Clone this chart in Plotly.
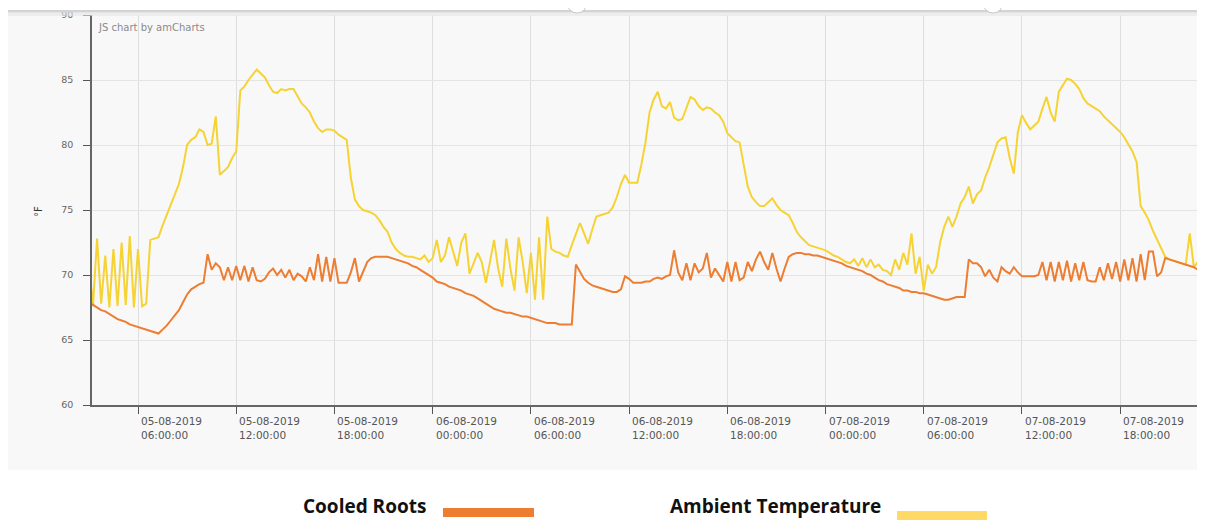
import pandas as pd
import plotly.graph_objects as go

# ---------------- data (15-minute readings from 05-08-2019 03:00) ----------------
start_time = "2019-08-05 03:00:00"

ambient_temperature = [
    71.0, 67.6, 72.8, 67.8,   # 03h
    71.5, 67.5, 72.0, 67.6,   # 04h
    72.5, 67.7, 73.0, 67.5,   # 05h
    72.0, 67.6, 67.8, 72.7,   # 06h
    72.8, 72.9, 73.8, 74.6,   # 07h
    75.3, 76.2, 77.0, 78.3,   # 08h
    80.0, 80.4, 80.6, 81.2,   # 09h
    81.0, 80.0, 80.1, 82.2,   # 10h
    77.7, 78.0, 78.3, 79.0,   # 11h
    79.5, 84.2, 84.5, 85.0,   # 12h
    85.4, 85.8, 85.5, 85.2,   # 13h
    84.6, 84.1, 84.0, 84.3,   # 14h
    84.2, 84.3, 84.3, 83.8,   # 15h
    83.2, 82.9, 82.5, 81.8,   # 16h
    81.3, 81.0, 81.2, 81.2,   # 17h
    81.1, 80.8, 80.6, 80.4,   # 18h
    77.5, 75.8, 75.3, 75.0,   # 19h
    74.9, 74.8, 74.6, 74.2,   # 20h
    73.7, 73.3, 72.5, 72.0,   # 21h
    71.7, 71.5, 71.4, 71.4,   # 22h
    71.3, 71.2, 71.5, 71.0,   # 23h
    71.3, 72.7, 71.0, 71.5,   # 06-08 00h
    72.9, 71.8, 70.7, 72.5,   # 01h
    73.2, 70.1, 70.9, 71.7,   # 02h
    71.0, 69.4, 71.0, 72.7,   # 03h
    70.5, 69.1, 72.8, 70.5,   # 04h
    68.8, 72.9, 71.0, 68.6,   # 05h
    71.7, 68.1, 72.9, 68.1,   # 06h
    74.5, 72.0, 71.8, 71.7,   # 07h
    71.5, 71.4, 72.3, 73.2,   # 08h
    74.0, 73.2, 72.4, 73.5,   # 09h
    74.5, 74.6, 74.7, 74.8,   # 10h
    75.2, 76.0, 77.0, 77.7,   # 11h
    77.1, 77.1, 77.1, 78.5,   # 12h
    80.2, 82.5, 83.5, 84.1,   # 13h
    83.0, 82.8, 83.3, 82.1,   # 14h
    81.9, 82.0, 82.8, 83.7,   # 15h
    83.5, 83.0, 82.7, 82.9,   # 16h
    82.8, 82.5, 82.3, 81.8,   # 17h
    80.9, 80.6, 80.3, 80.2,   # 18h
    78.5, 76.8, 76.0, 75.6,   # 19h
    75.3, 75.3, 75.6, 75.9,   # 20h
    75.4, 75.0, 74.8, 74.6,   # 21h
    74.0, 73.3, 72.9, 72.6,   # 22h
    72.3, 72.2, 72.1, 72.0,   # 23h
    71.9, 71.7, 71.5, 71.4,   # 07-08 00h
    71.2, 71.0, 70.9, 71.2,   # 01h
    70.7, 71.3, 70.6, 71.2,   # 02h
    70.6, 70.8, 70.4, 70.3,   # 03h
    70.0, 71.2, 70.4, 71.7,   # 04h
    70.8, 73.2, 70.1, 71.4,   # 05h
    68.8, 70.8, 70.1, 70.6,   # 06h
    72.5, 73.7, 74.5, 73.7,   # 07h
    74.5, 75.5, 76.0, 76.8,   # 08h
    75.5, 76.2, 76.5, 77.5,   # 09h
    78.3, 79.3, 80.2, 80.5,   # 10h
    80.6, 79.0, 77.8, 81.0,   # 11h
    82.3, 81.7, 81.2, 81.5,   # 12h
    81.8, 82.8, 83.7, 82.5,   # 13h
    81.8, 84.1, 84.6, 85.1,   # 14h
    85.0, 84.7, 84.3, 83.6,   # 15h
    83.2, 83.0, 82.8, 82.6,   # 16h
    82.2, 81.9, 81.6, 81.3,   # 17h
    81.0, 80.6, 80.1, 79.5,   # 18h
    78.7, 75.3, 74.8, 74.2,   # 19h
    73.4, 72.7, 72.0, 71.4,   # 20h
    71.2, 71.1, 71.0, 70.9,   # 21h
    70.8, 73.2, 70.6, 71.0,   # 22h
    71.3, 71.2,               # 23h
]

cooled_roots = [
    67.9, 67.7, 67.5, 67.3,   # 03h
    67.2, 67.0, 66.8, 66.6,   # 04h
    66.5, 66.4, 66.2, 66.1,   # 05h
    66.0, 65.9, 65.8, 65.7,   # 06h
    65.6, 65.5, 65.8, 66.1,   # 07h
    66.5, 66.9, 67.3, 67.9,   # 08h
    68.5, 68.9, 69.1, 69.3,   # 09h
    69.4, 71.6, 70.4, 70.9,   # 10h
    70.6, 69.6, 70.6, 69.6,   # 11h
    70.7, 69.6, 70.7, 69.5,   # 12h
    70.6, 69.6, 69.5, 69.7,   # 13h
    70.2, 70.5, 70.0, 70.4,   # 14h
    69.8, 70.4, 69.6, 70.1,   # 15h
    69.9, 69.5, 70.6, 69.6,   # 16h
    71.6, 69.5, 71.4, 69.5,   # 17h
    71.3, 69.4, 69.4, 69.4,   # 18h
    70.2, 71.3, 69.5, 70.3,   # 19h
    71.0, 71.3, 71.4, 71.4,   # 20h
    71.4, 71.4, 71.3, 71.2,   # 21h
    71.1, 71.0, 70.9, 70.7,   # 22h
    70.6, 70.4, 70.2, 70.0,   # 23h
    69.8, 69.5, 69.4, 69.3,   # 06-08 00h
    69.1, 69.0, 68.9, 68.8,   # 01h
    68.6, 68.5, 68.4, 68.2,   # 02h
    68.0, 67.8, 67.6, 67.4,   # 03h
    67.3, 67.2, 67.1, 67.1,   # 04h
    67.0, 66.9, 66.8, 66.8,   # 05h
    66.7, 66.6, 66.5, 66.4,   # 06h
    66.3, 66.3, 66.3, 66.2,   # 07h
    66.2, 66.2, 66.2, 70.8,   # 08h
    70.2, 69.7, 69.4, 69.2,   # 09h
    69.1, 69.0, 68.9, 68.8,   # 10h
    68.7, 68.7, 68.9, 69.9,   # 11h
    69.7, 69.4, 69.4, 69.4,   # 12h
    69.5, 69.5, 69.7, 69.8,   # 13h
    69.7, 69.9, 70.0, 71.9,   # 14h
    70.2, 69.6, 70.9, 69.6,   # 15h
    70.9, 70.2, 70.5, 71.7,   # 16h
    69.8, 70.5, 70.0, 69.5,   # 17h
    71.0, 69.5, 71.0, 69.6,   # 18h
    69.8, 71.0, 70.3, 71.2,   # 19h
    71.8, 71.0, 70.4, 71.7,   # 20h
    70.5, 69.5, 70.5, 71.4,   # 21h
    71.6, 71.7, 71.7, 71.6,   # 22h
    71.6, 71.5, 71.5, 71.4,   # 23h
    71.3, 71.2, 71.1, 71.0,   # 07-08 00h
    70.9, 70.7, 70.6, 70.5,   # 01h
    70.4, 70.3, 70.1, 70.0,   # 02h
    69.8, 69.6, 69.5, 69.3,   # 03h
    69.2, 69.1, 69.0, 68.8,   # 04h
    68.8, 68.7, 68.7, 68.6,   # 05h
    68.6, 68.5, 68.4, 68.3,   # 06h
    68.2, 68.1, 68.1, 68.2,   # 07h
    68.3, 68.3, 68.3, 71.2,   # 08h
    70.9, 70.9, 70.6, 69.9,   # 09h
    70.4, 69.8, 69.5, 70.6,   # 10h
    70.3, 70.1, 70.6, 70.2,   # 11h
    69.9, 69.9, 69.9, 69.9,   # 12h
    70.0, 71.0, 69.6, 71.0,   # 13h
    69.5, 71.0, 69.6, 71.1,   # 14h
    69.5, 70.9, 69.6, 71.0,   # 15h
    69.6, 69.5, 69.5, 70.6,   # 16h
    69.6, 70.9, 69.7, 71.0,   # 17h
    69.5, 71.2, 69.6, 71.3,   # 18h
    69.5, 71.6, 69.6, 71.8,   # 19h
    71.8, 69.9, 70.2, 71.3,   # 20h
    71.2, 71.1, 71.0, 70.9,   # 21h
    70.8, 70.7, 70.6, 70.4,   # 22h
    70.4, 70.3,               # 23h
]

tick_values = [
    "2019-08-05 06:00:00", "2019-08-05 12:00:00", "2019-08-05 18:00:00",
    "2019-08-06 00:00:00", "2019-08-06 06:00:00", "2019-08-06 12:00:00",
    "2019-08-06 18:00:00", "2019-08-07 00:00:00", "2019-08-07 06:00:00",
    "2019-08-07 12:00:00", "2019-08-07 18:00:00",
]
tick_labels = [
    "05-08-2019<br>06:00:00", "05-08-2019<br>12:00:00", "05-08-2019<br>18:00:00",
    "06-08-2019<br>00:00:00", "06-08-2019<br>06:00:00", "06-08-2019<br>12:00:00",
    "06-08-2019<br>18:00:00", "07-08-2019<br>00:00:00", "07-08-2019<br>06:00:00",
    "07-08-2019<br>12:00:00", "07-08-2019<br>18:00:00",
]
y_ticks = [60, 65, 70, 75, 80, 85, 90]
series_names = ["Cooled Roots", "Ambient Temperature"]
series_colors = ["#ed7d31", "#f6d334"]
legend_colors = ["#ed7d31", "#ffd966"]
x_range = ["2019-08-05 03:11:24", "2019-08-07 23:10:48"]

# ---------------- figure ----------------
times = pd.date_range(start_time, periods=len(cooled_roots), freq="15min")

# the page body has an 8px margin, so the figure is offset by 8px
OFF = 8
W, H = 1205 - OFF, 521 - OFF
L, R, T, B = 92 - OFF, 0, 15 - OFF, 116
PW, PH = W - L - R, H - T - B


def px_x(p):
    """reference-screen x pixel -> paper coordinate"""
    return (p - OFF - L) / PW


def px_y(p):
    """reference-screen y pixel -> paper coordinate"""
    return (H - B - (p - OFF)) / PH


fig = go.Figure()
fig.add_trace(go.Scatter(x=times, y=ambient_temperature, mode="lines",
                         name=series_names[1],
                         line=dict(color=series_colors[1], width=2),
                         showlegend=False))
fig.add_trace(go.Scatter(x=times, y=cooled_roots, mode="lines",
                         name=series_names[0],
                         line=dict(color=series_colors[0], width=2),
                         showlegend=False))

BG = "#f8f8f8"
shapes = [
    # chart container background
    dict(type="rect", xref="paper", yref="paper", layer="below",
         x0=px_x(7), x1=px_x(1205), y0=px_y(470), y1=px_y(10),
         fillcolor=BG, line=dict(width=0)),
    # scrollbar shadow at top
    dict(type="rect", xref="paper", yref="paper", layer="above",
         x0=px_x(7), x1=px_x(1205), y0=px_y(12.5), y1=px_y(10),
         fillcolor="#d3d3d3", line=dict(width=0)),
    dict(type="rect", xref="paper", yref="paper", layer="above",
         x0=px_x(7), x1=px_x(1205), y0=px_y(16), y1=px_y(12.5),
         fillcolor="#e6e6e6", opacity=0.6, line=dict(width=0)),
]
for cx in (577, 993):
    shapes.append(dict(type="circle", xref="paper", yref="paper", layer="above",
                       x0=px_x(cx - 10), x1=px_x(cx + 10),
                       y0=px_y(13), y1=px_y(-7),
                       fillcolor="white", line=dict(color="#c8c8c8", width=1)))
# legend swatches
shapes.append(dict(type="rect", xref="paper", yref="paper",
                   x0=px_x(443), x1=px_x(534), y0=px_y(517), y1=px_y(508),
                   fillcolor=legend_colors[0], line=dict(width=0)))
shapes.append(dict(type="rect", xref="paper", yref="paper",
                   x0=px_x(897), x1=px_x(987), y0=px_y(520), y1=px_y(511),
                   fillcolor=legend_colors[1], line=dict(width=0)))

annotations = []
for tv, tl in zip(tick_values, tick_labels):
    annotations.append(dict(x=tv, xref="x", y=0, yref="paper", yshift=-8,
                            xshift=1, xanchor="left", yanchor="top",
                            align="left", showarrow=False, text=tl,
                            font=dict(family="DejaVu Sans", size=10.5,
                                      color="#555555")))
annotations += [
    dict(x=px_x(96), y=px_y(28), xref="paper", yref="paper", xanchor="left",
         yanchor="middle", showarrow=False, text="JS chart by amCharts",
         font=dict(family="DejaVu Sans", size=10, color="#8a8a8a")),
    dict(x=px_x(38), y=px_y(212), xref="paper", yref="paper", xanchor="center",
         yanchor="middle", showarrow=False, text="°F", textangle=-90,
         font=dict(family="DejaVu Sans", size=10, color="#333333")),
    dict(x=px_x(428), y=px_y(520.5), xref="paper", yref="paper", xanchor="right",
         yanchor="bottom", showarrow=False, text="<b>" + series_names[0] + "</b>",
         font=dict(family="Open Sans", size=19, color="#111111")),
    dict(x=px_x(883), y=px_y(520.5), xref="paper", yref="paper", xanchor="right",
         yanchor="bottom", showarrow=False, text="<b>" + series_names[1] + "</b>",
         font=dict(family="Open Sans", size=19, color="#111111")),
]

fig.update_layout(
    width=W, height=H, autosize=False,
    margin=dict(l=L, r=R, t=T, b=B, pad=0),
    paper_bgcolor="white", plot_bgcolor=BG,
    shapes=shapes, annotations=annotations,
    xaxis=dict(type="date", range=x_range, tickvals=tick_values,
               showticklabels=False, ticks="outside", ticklen=7,
               tickcolor="#555555", showgrid=True, gridcolor="#dedede",
               gridwidth=1, showline=True, linecolor="#666666", linewidth=1.5,
               zeroline=False, fixedrange=True),
    yaxis=dict(range=[60, 90], tickvals=y_ticks, ticks="outside", ticklen=7,
               tickcolor="#555555", showgrid=True, gridcolor="#e4e4e4",
               showline=True, linecolor="#666666", linewidth=1.5,
               zeroline=False, ticklabelstandoff=8,
               tickfont=dict(family="DejaVu Sans", size=9.5, color="#666666")),
)

fig.write_html("out.html")
